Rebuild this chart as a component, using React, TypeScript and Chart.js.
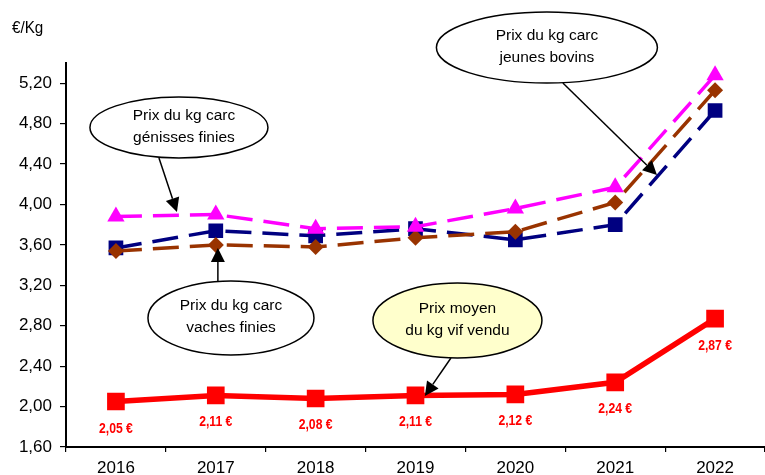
import React, { useEffect, useRef } from "react";
import { Chart, registerables } from "chart.js";

Chart.register(...registerables);

const years = ["2016", "2017", "2018", "2019", "2020", "2021", "2022"];
const vifVendu = [2.05, 2.11, 2.08, 2.11, 2.12, 2.24, 2.87];
const genisses = [3.88, 3.9, 3.76, 3.78, 3.96, 4.17, 5.28];
const jeunesBovins = [3.54, 3.6, 3.58, 3.67, 3.73, 4.02, 5.13];
const vaches = [3.57, 3.74, 3.69, 3.76, 3.65, 3.8, 4.93];
const yMin = 1.6;
const yMax = 5.4;
const yStep = 0.4;
const yUnit = "€/Kg";

type Callout = {
  lines: string[];
  cx: number;
  cy: number;
  rx: number;
  ry: number;
  fill: string;
  from: [number, number];
  to: [number, number];
  dx: number;
};

const callouts: Callout[] = [
  { lines: ["Prix du kg carc", "génisses finies"], cx: 0.631, cy: 4.762, rx: 89, ry: 30.5, fill: "#ffffff", from: [0.431, 4.46], to: [0.611, 3.926], dx: 5 },
  { lines: ["Prix du kg carc", "jeunes bovins"], cx: 4.316, cy: 5.553, rx: 110.5, ry: 35.5, fill: "#ffffff", from: [4.476, 5.202], to: [5.418, 4.292], dx: 0 },
  { lines: ["Prix du kg carc", "vaches finies"], cx: 1.152, cy: 2.877, rx: 83, ry: 37, fill: "#ffffff", from: [1.021, 3.243], to: [1.021, 3.569], dx: 0 },
  { lines: ["Prix moyen", "du kg vif vendu"], cx: 3.42, cy: 2.852, rx: 84.5, ry: 37.5, fill: "#ffffcc", from: [3.355, 2.481], to: [3.094, 2.105], dx: 0 },
];

const FONT = "'Liberation Sans', Arial, sans-serif";

function scaledText(ctx: CanvasRenderingContext2D, text: string, x: number, y: number, font: string, sx: number, color: string, align: CanvasTextAlign = "center", baseline: CanvasTextBaseline = "middle") {
  ctx.save();
  ctx.translate(x, y);
  ctx.scale(sx, 1);
  ctx.font = font;
  ctx.fillStyle = color;
  ctx.textAlign = align;
  ctx.textBaseline = baseline;
  ctx.fillText(text, 0, 0);
  ctx.restore();
}

const overlayPlugin = {
  id: "overlay",
  afterDatasetsDraw(chart: any) {
    const ctx: CanvasRenderingContext2D = chart.ctx;
    const xs = chart.scales.x;
    const ys = chart.scales.y;
    // unit label
    scaledText(ctx, yUnit, 12, 33, `16px ${FONT}`, 0.95, "#000", "left", "alphabetic");
    // data labels for the red series
    const meta = chart.getDatasetMeta(0);
    meta.data.forEach((pt: any, i: number) => {
      const txt = vifVendu[i].toFixed(2).replace(".", ",") + " €";
      scaledText(ctx, txt, pt.x, pt.y + 27, `bold 14.5px ${FONT}`, 0.84, "#ff0000");
    });
    // callouts
    callouts.forEach((c) => {
      const cx = xs.getPixelForValue(c.cx);
      const cy = ys.getPixelForValue(c.cy);
      const fx = xs.getPixelForValue(c.from[0]);
      const fy = ys.getPixelForValue(c.from[1]);
      const tx = xs.getPixelForValue(c.to[0]);
      const ty = ys.getPixelForValue(c.to[1]);
      // arrow
      const ang = Math.atan2(ty - fy, tx - fx);
      const al = 14;
      const aw = 7;
      const bx = tx - Math.cos(ang) * al;
      const by = ty - Math.sin(ang) * al;
      ctx.save();
      ctx.strokeStyle = "#000";
      ctx.lineWidth = 1.5;
      ctx.beginPath();
      ctx.moveTo(fx, fy);
      ctx.lineTo(bx, by);
      ctx.stroke();
      ctx.fillStyle = "#000";
      ctx.beginPath();
      ctx.moveTo(tx, ty);
      ctx.lineTo(bx + Math.sin(ang) * aw, by - Math.cos(ang) * aw);
      ctx.lineTo(bx - Math.sin(ang) * aw, by + Math.cos(ang) * aw);
      ctx.closePath();
      ctx.fill();
      // ellipse
      ctx.beginPath();
      ctx.ellipse(cx, cy, c.rx, c.ry, 0, 0, Math.PI * 2);
      ctx.fillStyle = c.fill;
      ctx.fill();
      ctx.lineWidth = 1.5;
      ctx.strokeStyle = "#000";
      ctx.stroke();
      ctx.restore();
      scaledText(ctx, c.lines[0], cx + c.dx, cy - 12, `15.5px ${FONT}`, 1, "#000");
      scaledText(ctx, c.lines[1], cx + c.dx, cy + 10, `15.5px ${FONT}`, 1, "#000");
    });
  },
};

export default function App() {
  const ref = useRef<HTMLCanvasElement | null>(null);
  useEffect(() => {
    if (!ref.current) return;
    const dash = [26, 11];
    const chart = new Chart(ref.current, {
      type: "line",
      data: {
        labels: years,
        datasets: [
          {
            label: "Prix moyen du kg vif vendu",
            data: vifVendu,
            borderColor: "#ff0000",
            backgroundColor: "#ff0000",
            borderWidth: 5.5,
            pointStyle: "rect",
            pointRadius: 12.5,
            pointBorderWidth: 0,
            tension: 0,
          },
          {
            label: "Génisses finies",
            data: genisses,
            borderColor: "#ff00ff",
            backgroundColor: "#ff00ff",
            borderWidth: 3.5,
            borderDash: dash,
            pointStyle: "triangle",
            pointRadius: 10,
            pointBorderWidth: 0,
            tension: 0,
          },
          {
            label: "Jeunes bovins",
            data: jeunesBovins,
            borderColor: "#993300",
            backgroundColor: "#993300",
            borderWidth: 3.5,
            borderDash: dash,
            pointStyle: "rectRot",
            pointRadius: 8,
            pointBorderWidth: 0,
            tension: 0,
          },
          {
            label: "Vaches finies",
            data: vaches,
            borderColor: "#000080",
            backgroundColor: "#000080",
            borderWidth: 3.5,
            borderDash: dash,
            pointStyle: "rect",
            pointRadius: 10.4,
            pointBorderWidth: 0,
            tension: 0,
          },
        ],
      },
      options: {
        responsive: false,
        animation: false,
        layout: { autoPadding: false, padding: { top: 63, left: 0, right: 0, bottom: 0 } },
        plugins: { legend: { display: false }, tooltip: { enabled: false } },
        scales: {
          x: {
            offset: true,
            grid: { display: true, offset: true, drawOnChartArea: false, drawTicks: true, tickLength: 5, color: "#000", lineWidth: 1.2 },
            border: { display: true, color: "#000", width: 2 },
            ticks: { color: "#000", font: { family: FONT, size: 17 }, padding: 6, maxRotation: 0 },
            afterFit: (s: any) => {
              s.height = 28;
            },
          },
          y: {
            min: yMin,
            max: yMax,
            ticks: {
              stepSize: yStep,
              color: "#000",
              font: { family: FONT, size: 17 },
              padding: 8,
              callback: (v: any) => Number(v).toFixed(2).replace(".", ","),
            },
            afterBuildTicks: (s: any) => {
              s.ticks = s.ticks.filter((t: any) => t.value < yMax - 0.01);
            },
            grid: { display: true, drawOnChartArea: false, drawTicks: true, tickLength: 6, color: "#000", lineWidth: 1.2 },
            border: { display: true, color: "#000", width: 2 },
            afterFit: (s: any) => {
              s.width = 66;
            },
          },
        },
      },
      plugins: [overlayPlugin],
    });
    return () => chart.destroy();
  }, []);
  return (
    <canvas
      ref={ref}
      width={765}
      height={475}
      style={{ position: "fixed", left: 0, top: 0, width: 765, height: 475, background: "#fff" }}
    />
  );
}
